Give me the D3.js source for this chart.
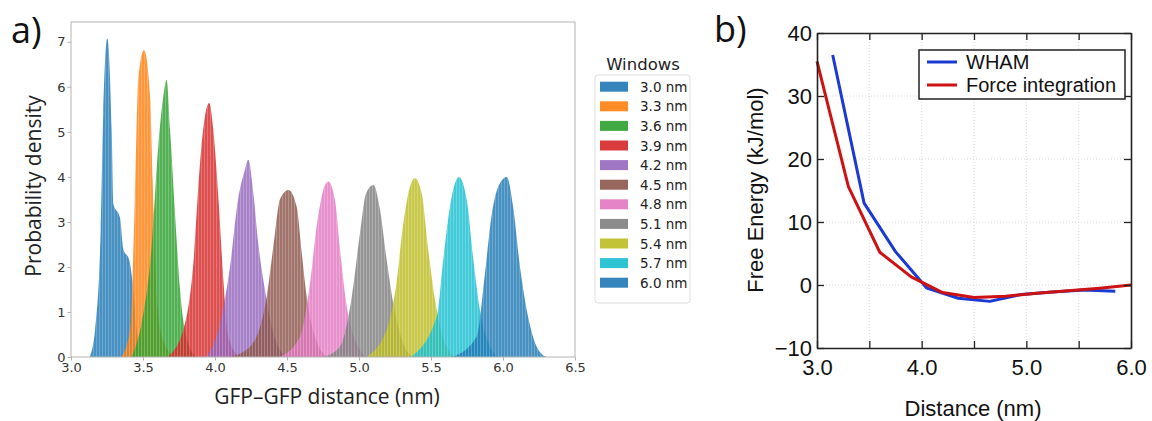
<!DOCTYPE html>
<html>
<head>
<meta charset="utf-8">
<script src="https://cdn.jsdelivr.net/npm/d3@7"></script>
<style>
  body { margin: 0; background: #fff; }
  svg { display: block; }
</style>
</head>
<body>
<div id="chart"></div>
<script>
// ---- panel a) data: umbrella windows [distance nm, density]
const windowLabels = ["3.0 nm", "3.3 nm", "3.6 nm", "3.9 nm", "4.2 nm", "4.5 nm", "4.8 nm", "5.1 nm", "5.4 nm", "5.7 nm", "6.0 nm"];
const windowColors = ["#1f77b4", "#ff7f0e", "#2ca02c", "#d62728", "#9467bd", "#8c564b", "#e377c2", "#7f7f7f", "#bcbd22", "#17becf", "#1f77b4"];

const win30 = [[3.13, 0], [3.167, 0.6], [3.206, 2.8], [3.224, 5.4], [3.252, 7.08], [3.283, 5.0], [3.294, 3.4], [3.34, 3.1], [3.363, 2.4], [3.405, 2.15], [3.428, 1.64], [3.456, 0.6], [3.49, 0]];
const win33 = [[3.35, 0], [3.41, 0.6], [3.444, 3.56], [3.467, 6.15], [3.507, 6.82], [3.549, 5.78], [3.567, 3.93], [3.595, 1.34], [3.64, 0.38], [3.72, 0]];
const win36 = [[3.42, 0], [3.49, 0.75], [3.56, 2.45], [3.606, 4.67], [3.641, 5.78], [3.664, 6.15], [3.688, 5.04], [3.722, 3.19], [3.757, 1.49], [3.80, 0.45], [3.87, 0]];
const win39 = [[3.67, 0], [3.78, 0.6], [3.85, 2.08], [3.896, 4.3], [3.93, 5.34], [3.96, 5.64], [3.988, 5.04], [4.023, 3.56], [4.058, 1.71], [4.092, 0.45], [4.17, 0]];
const win42 = [[3.94, 0], [4.035, 0.75], [4.104, 2.0], [4.16, 3.49], [4.208, 4.16], [4.231, 4.38], [4.266, 3.64], [4.30, 2.53], [4.347, 1.49], [4.394, 0.67], [4.45, 0.16], [4.5, 0]];
const win45 = [[4.1, 0], [4.243, 0.23], [4.359, 1.34], [4.417, 2.75], [4.45, 3.49], [4.51, 3.71], [4.567, 3.34], [4.60, 2.38], [4.637, 1.34], [4.694, 0.45], [4.78, 0]];
const win48 = [[4.45, 0], [4.59, 0.45], [4.66, 1.64], [4.706, 2.9], [4.752, 3.71], [4.787, 3.9], [4.833, 3.49], [4.868, 2.38], [4.915, 1.12], [4.984, 0.3], [5.05, 0]];
const win51 = [[4.75, 0], [4.868, 0.23], [4.95, 1.34], [5.007, 2.75], [5.05, 3.64], [5.10, 3.82], [5.146, 3.27], [5.192, 2.16], [5.238, 1.19], [5.308, 0.3], [5.37, 0]];
const win54 = [[5.05, 0], [5.192, 0.6], [5.26, 1.64], [5.308, 2.97], [5.354, 3.78], [5.389, 3.97], [5.435, 3.64], [5.481, 2.38], [5.528, 1.27], [5.597, 0.3], [5.67, 0]];
const win57 = [[5.36, 0], [5.54, 0.9], [5.585, 2.16], [5.632, 3.34], [5.667, 3.86], [5.694, 4.0], [5.748, 3.49], [5.794, 2.16], [5.84, 1.04], [5.91, 0.23], [5.97, 0]];
const win60 = [[5.65, 0], [5.817, 0.45], [5.875, 1.86], [5.92, 3.12], [5.967, 3.78], [6.026, 4.0], [6.07, 3.34], [6.118, 2.0], [6.165, 1.04], [6.234, 0.23], [6.30, 0]];
const histograms = [win30, win33, win36, win39, win42, win45, win48, win51, win54, win57, win60];

const histXTicks = [3.0, 3.5, 4.0, 4.5, 5.0, 5.5, 6.0, 6.5];
const histYTicks = [0, 1, 2, 3, 4, 5, 6, 7];

// ---- panel b) data: free energy profiles
const whamX = [3.15, 3.45, 3.75, 4.05, 4.35, 4.65, 4.95, 5.25, 5.55, 5.85];
const whamY = [36.5, 13.0, 5.3, -0.5, -2.1, -2.6, -1.5, -1.1, -0.8, -1.0];
const forceX = [3.0, 3.3, 3.6, 3.9, 4.2, 4.5, 4.8, 5.1, 5.4, 5.7, 6.0];
const forceY = [35.5, 15.6, 5.2, 1.3, -1.2, -2.0, -1.8, -1.3, -0.9, -0.5, 0.0];
const energyXTicks = [3.0, 4.0, 5.0, 6.0];
const energyXMinor = [3.5, 4.5, 5.5];
const energyYTicks = [-10, 0, 10, 20, 30, 40];

const svg = d3.select("#chart").append("svg")
    .attr("width", 1152)
    .attr("height", 421);

// stripe pattern to mimic the many thin histogram bins
svg.append("defs").append("pattern")
    .attr("id", "bins")
    .attr("patternUnits", "userSpaceOnUse")
    .attr("width", 3)
    .attr("height", 10)
    .append("rect")
    .attr("x", 0).attr("y", 0)
    .attr("width", 0.8).attr("height", 10)
    .attr("fill", "#fff")
    .attr("opacity", 0.28);

// ================= panel a =================
const xA = d3.scaleLinear().domain([3.0, 6.5]).range([71, 575]);
const yA = d3.scaleLinear().domain([0, 7.44]).range([357, 22]);

const area = d3.area()
    .x(d => xA(d[0]))
    .y0(yA(0))
    .y1(d => yA(d[1]))
    .curve(d3.curveMonotoneX);

histograms.forEach((pts, i) => {
    svg.append("path")
        .attr("d", area(pts))
        .attr("fill", windowColors[i])
        .attr("fill-opacity", 0.82);
    svg.append("path")
        .attr("d", area(pts))
        .attr("fill", "url(#bins)");
});

// frame
svg.append("rect")
    .attr("x", 71).attr("y", 22)
    .attr("width", 575 - 71).attr("height", 357 - 22)
    .attr("fill", "none")
    .attr("stroke", "#b3b3b3")
    .attr("stroke-width", 1);

const axA = svg.append("g")
    .attr("transform", "translate(0,357)")
    .call(d3.axisBottom(xA).tickValues(histXTicks).tickFormat(d3.format(".1f")).tickSize(3.5).tickSizeOuter(0).tickPadding(2));
const ayA = svg.append("g")
    .attr("transform", "translate(71,0)")
    .call(d3.axisLeft(yA).tickValues(histYTicks).tickFormat(d3.format("d")).tickSize(3.5).tickSizeOuter(0).tickPadding(2));
[axA, ayA].forEach(g => {
    g.select(".domain").remove();
    g.selectAll("line").attr("stroke", "#b3b3b3");
    g.selectAll("text")
        .attr("font-family", "DejaVu Sans")
        .attr("font-size", 13)
        .attr("fill", "#333");
});

svg.append("text")
    .attr("x", 327).attr("y", 404)
    .attr("text-anchor", "middle")
    .attr("font-family", "Open Sans")
    .attr("font-size", 21)
    .attr("fill", "#222")
    .text("GFP\u2013GFP distance (nm)");

svg.append("text")
    .attr("transform", "translate(41,186) rotate(-90)")
    .attr("text-anchor", "middle")
    .attr("font-family", "Open Sans")
    .attr("font-size", 21)
    .attr("fill", "#222")
    .text("Probability density");

svg.append("text")
    .attr("x", 11).attr("y", 43)
    .attr("font-family", "Open Sans")
    .attr("font-size", 36)
    .attr("fill", "#111")
    .text("a)");

// legend a
svg.append("text")
    .attr("x", 643).attr("y", 70)
    .attr("text-anchor", "middle")
    .attr("font-family", "DejaVu Sans")
    .attr("font-size", 16.5)
    .attr("fill", "#222")
    .text("Windows");

svg.append("rect")
    .attr("x", 595).attr("y", 75)
    .attr("width", 95).attr("height", 228)
    .attr("rx", 3)
    .attr("fill", "#fff")
    .attr("stroke", "#ddd");

windowLabels.forEach((lab, i) => {
    const cy = 86.7 + i * 19.6;
    svg.append("rect")
        .attr("x", 600).attr("y", cy - 5)
        .attr("width", 28).attr("height", 10)
        .attr("fill", windowColors[i])
        .attr("fill-opacity", 0.9);
    svg.append("text")
        .attr("x", 640).attr("y", cy + 5)
        .attr("font-family", "DejaVu Sans")
        .attr("font-size", 13.5)
        .attr("fill", "#222")
        .text(lab);
});

// ================= panel b =================
const xB = d3.scaleLinear().domain([3.0, 6.0]).range([817, 1131]);
const yB = d3.scaleLinear().domain([-10, 40]).range([348, 33]);

// dotted grid
const grid = svg.append("g")
    .attr("stroke", "#cfcfcf")
    .attr("stroke-width", 0.8)
    .attr("stroke-dasharray", "1,2");
[3.5, 4.0, 4.5, 5.0, 5.5].forEach(v => {
    grid.append("line")
        .attr("x1", xB(v)).attr("x2", xB(v))
        .attr("y1", yB(40)).attr("y2", yB(-10));
});
[0, 10, 20, 30].forEach(v => {
    grid.append("line")
        .attr("x1", xB(3)).attr("x2", xB(6))
        .attr("y1", yB(v)).attr("y2", yB(v));
});

const line = d3.line()
    .x(d => xB(d[0]))
    .y(d => yB(d[1]));

svg.append("path")
    .attr("d", line(whamX.map((x, i) => [x, whamY[i]])))
    .attr("fill", "none")
    .attr("stroke", "#1a3ad3")
    .attr("stroke-width", 3)
    .attr("stroke-linejoin", "round");

svg.append("path")
    .attr("d", line(forceX.map((x, i) => [x, forceY[i]])))
    .attr("fill", "none")
    .attr("stroke", "#cc1212")
    .attr("stroke-width", 3)
    .attr("stroke-linejoin", "round");

// axes with inward ticks on all four sides
const allX = energyXTicks.concat(energyXMinor);
const axB = svg.append("g")
    .attr("transform", "translate(0,348)")
    .call(d3.axisBottom(xB).tickValues(energyXTicks).tickFormat(d3.format(".1f")).tickSize(-7).tickSizeOuter(0).tickPadding(11));
const ayB = svg.append("g")
    .attr("transform", "translate(817,0)")
    .call(d3.axisLeft(yB).tickValues(energyYTicks).tickFormat(d3.format("d")).tickSize(-7).tickSizeOuter(0).tickPadding(5));
const atB = svg.append("g")
    .attr("transform", "translate(0,33)")
    .call(d3.axisTop(xB).tickValues(allX).tickFormat("").tickSize(-7).tickSizeOuter(0));
const arB = svg.append("g")
    .attr("transform", "translate(1131,0)")
    .call(d3.axisRight(yB).tickValues(energyYTicks).tickFormat("").tickSize(-7).tickSizeOuter(0));
svg.append("g")
    .attr("transform", "translate(0,348)")
    .call(d3.axisBottom(xB).tickValues(energyXMinor).tickFormat("").tickSize(-7).tickSizeOuter(0))
    .call(g => g.select(".domain").remove())
    .selectAll("line").attr("stroke", "#222").attr("stroke-width", 1.3);

[axB, ayB, atB, arB].forEach(g => {
    g.select(".domain").attr("stroke", "#222").attr("stroke-width", 1.6);
    g.selectAll(".tick line").attr("stroke", "#222").attr("stroke-width", 1.3);
    g.selectAll("text")
        .attr("font-family", "Liberation Sans")
        .attr("font-size", 22)
        .attr("fill", "#111");
});

svg.append("text")
    .attr("x", 973).attr("y", 416)
    .attr("text-anchor", "middle")
    .attr("font-family", "Liberation Sans")
    .attr("font-size", 22)
    .attr("fill", "#111")
    .text("Distance (nm)");

svg.append("text")
    .attr("transform", "translate(763,190) rotate(-90)")
    .attr("text-anchor", "middle")
    .attr("font-family", "Liberation Sans")
    .attr("font-size", 22)
    .attr("fill", "#111")
    .text("Free Energy (kJ/mol)");

svg.append("text")
    .attr("x", 714).attr("y", 42)
    .attr("font-family", "Open Sans")
    .attr("font-size", 36)
    .attr("fill", "#111")
    .text("b)");

// legend b
svg.append("rect")
    .attr("x", 919).attr("y", 50)
    .attr("width", 206).attr("height", 49)
    .attr("fill", "#fff")
    .attr("stroke", "#222")
    .attr("stroke-width", 1.5);

const legendB = [["WHAM", "#1a3ad3"], ["Force integration", "#cc1212"]];
legendB.forEach((d, i) => {
    const cy = 62 + i * 23;
    svg.append("line")
        .attr("x1", 927).attr("x2", 957)
        .attr("y1", cy).attr("y2", cy)
        .attr("stroke", d[1])
        .attr("stroke-width", 3);
    svg.append("text")
        .attr("x", 966).attr("y", cy + 7)
        .attr("font-family", "Liberation Sans")
        .attr("font-size", 20)
        .attr("fill", "#111")
        .text(d[0]);
});
</script>
</body>
</html>
